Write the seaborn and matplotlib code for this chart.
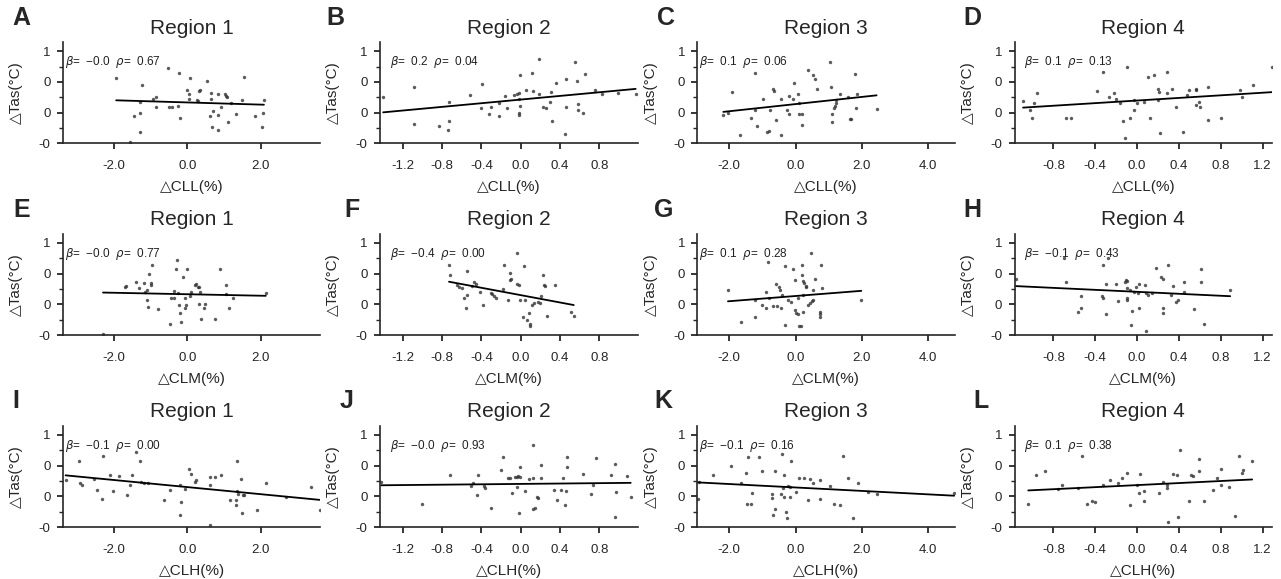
import matplotlib
matplotlib.use("Agg")
import matplotlib.pyplot as plt
import seaborn as sns
from matplotlib.ticker import MultipleLocator, FuncFormatter

# ---- data: x = cloud change (%), y = Tas change (degC) ----
x_A = [-1.94, -1.23, -0.53, -0.24, 0.08, 0.54, 1.56, 0.00, 0.04, 0.05, 0.32, 0.35, 0.64, 0.85,
       1.03, 1.06, 1.09, -0.94, -0.85, 0.26, 0.30, 0.64, 1.20, 1.50, 2.09, -1.30, -0.85, -0.50,
       -0.41, -0.25, 0.93, 0.70, -1.28, -1.45, -0.21, 0.63, 0.84, 1.34, 2.06, 1.86, 1.12, 0.68,
       0.84, 2.05, -1.30, -1.55]
y_A = [0.57, 0.45, 0.72, 0.65, 0.57, 0.51, 0.58, 0.37, 0.30, 0.23, 0.35, 0.37, 0.32, 0.31,
       0.30, 0.27, 0.26, 0.23, 0.26, 0.20, 0.19, 0.22, 0.15, 0.20, 0.20, 0.18, 0.09, 0.10,
       0.10, 0.11, 0.10, 0.02, -0.01, -0.06, -0.09, -0.06, -0.04, -0.02, 0.00, -0.06, -0.15, -0.23,
       -0.28, -0.23, -0.31, -0.47]

x_B = [-1.40, -1.09, -1.09, -0.73, -0.73, -0.83, -0.74, -0.52, -0.39, -0.40, -0.30, -0.32, -0.22,
       -0.22, -0.16, -0.14, -0.07, -0.04, -0.02, -0.02, -0.01, -0.02, -0.02, -0.01, 0.05, 0.11,
       0.13, 0.19, 0.19, 0.23, 0.26, 0.31, 0.30, 0.32, 0.36, 0.46, 0.46, 0.45, 0.55, 0.57, 0.58,
       0.58, 0.63, 0.65, 0.76, 0.83, 0.99, 1.17]
y_B = [0.25, 0.42, -0.18, 0.18, -0.13, -0.21, -0.28, 0.28, 0.47, 0.07, 0.10, -0.02, 0.15,
       -0.06, 0.27, 0.08, 0.28, 0.30, 0.32, 0.22, 0.11, -0.01, -0.04, 0.61, 0.37, 0.65,
       0.35, 0.88, 0.30, 0.10, 0.07, 0.34, 0.18, -0.13, 0.48, 0.54, 0.09, -0.34, 0.82, 0.52, 0.14,
       0.04, -0.01, 0.63, 0.37, 0.30, 0.32, 0.30]

x_C = [-2.18, -2.04, -1.91, -1.67, -1.24, -1.24, -1.17, -1.36, -0.99, -0.76, -0.68, -0.65, -0.58,
       -0.87, -0.79, -0.45, -0.45, -0.26, -0.21, -0.20, -0.05, -0.08, 0.07, 0.10, 0.09, 0.20, 0.20,
       0.37, 0.52, 0.57, 0.65, 1.06, 1.03, 1.11, 1.11, 1.16, 1.18, 1.21, 1.23, 1.33, 1.58, 1.63,
       1.68, 1.78, 1.81, 1.86, 2.44]
y_C = [-0.03, -0.01, 0.34, -0.36, 0.65, 0.05, -0.21, -0.08, 0.23, 0.05, 0.39, 0.35, -0.12,
       -0.32, -0.29, 0.22, -0.36, 0.04, -0.02, 0.27, 0.48, 0.22, 0.30, 0.16, -0.02, -0.02, -0.20,
       0.69, 0.62, 0.55, 0.39, 0.41, 0.82, -0.02, -0.15, 0.07, 0.11, 0.20, 0.15, 0.30, 0.26, -0.11,
       -0.11, 0.63, 0.07, 0.30, 0.06]

x_D = [-1.09, -0.99, -1.02, -1.00, -0.96, -0.63, -0.68, -0.38, -0.33, -0.27, -0.22, -0.20, -0.16,
       -0.13, -0.12, -0.10, -0.07, -0.03, -0.03, 0.00, 0.07, 0.10, 0.12, 0.16, 0.20, 0.21, 0.20,
       0.22, 0.29, 0.29, 0.33, 0.37, 0.44, 0.48, 0.50, 0.56, 0.56, 0.56, 0.59, 0.60, 0.68, 0.68,
       0.80, 0.98, 1.00, 1.11, 1.29]
y_D = [0.19, 0.16, 0.05, -0.09, 0.32, -0.09, -0.08, 0.35, 0.66, 0.25, 0.32, 0.23, 0.16,
       -0.13, -0.41, 0.75, -0.08, 0.20, 0.05, 0.16, 0.18, 0.58, -0.08, 0.61, 0.39, 0.34, 0.20,
       -0.33, 0.32, 0.66, 0.38, 0.10, -0.31, 0.28, 0.37, 0.39, 0.37, 0.12, 0.18, 0.09, 0.41, -0.12,
       -0.08, 0.37, 0.25, 0.45, 0.74]

x_E = [-2.30, -1.71, -1.66, -1.41, -1.32, -1.18, -1.16, -1.10, -1.09, -1.07, -1.05, -1.00, -0.98,
       -0.95, -0.80, -0.27, -0.30, -0.12, -0.37, -0.44, -0.37, -0.23, -0.25, -0.21, -0.18, -0.07,
       -0.05, -0.03, -0.01, 0.08, 0.11, 0.20, 0.25, 0.29, 0.32, 0.34, 0.32, 0.38, 0.45, 0.47, 0.75,
       0.90, 1.05, 1.05, 1.15, 1.25, 2.14, -0.46]
y_E = [-0.48, 0.29, 0.30, 0.37, 0.26, 0.35, 0.21, 0.24, 0.08, -0.04, 0.50, 0.35, 0.31,
       0.65, -0.08, 0.73, 0.57, 0.45, 0.22, 0.11, 0.10, -0.01, 0.19, -0.14, -0.28, -0.05,
       0.10, -0.01, 0.57, 0.14, 0.21, 0.31, 0.34, 0.29, 0.28, 0.21, 0.01, -0.23, -0.06, 0.01, -0.23,
       0.58, 0.31, 0.17, -0.06, 0.10, 0.19, -0.31]

x_F = [-0.73, -0.72, -0.55, -0.48, -0.46, -0.65, -0.63, -0.60, -0.58, -0.55, -0.56, -0.50, -0.41,
       -0.38, -0.30, -0.29, -0.25, -0.27, -0.18, -0.13, -0.17, -0.11, -0.10, -0.11, -0.04, -0.02,
       -0.04, -0.01, 0.03, 0.04, 0.02, 0.06, 0.08, 0.09, 0.09, 0.12, 0.14, 0.18, 0.20, 0.21, 0.23,
       0.24, 0.25, 0.35, 0.27, 0.51, 0.54]
y_F = [0.64, 0.48, 0.55, 0.37, 0.34, 0.31, 0.29, 0.27, 0.11, 0.15, -0.06, 0.30, 0.21,
       -0.01, 0.18, 0.17, 0.10, 0.14, 0.25, 0.08, 0.65, 0.51, 0.42, 0.39, 0.34, 0.31,
       0.84, 0.08, 0.62, 0.08, -0.20, -0.25, -0.14, -0.35, -0.31, -0.01, 0.03, 0.04, 0.02, 0.14, 0.48,
       0.31, 0.30, 0.31, -0.18, -0.13, -0.18]

x_G = [-2.04, -1.66, -1.24, -1.24, -1.01, -0.89, -0.89, -0.84, -0.79, -0.68, -0.58, -0.56, -0.50,
       -0.48, -0.43, -0.40, -0.33, -0.33, -0.23, -0.13, -0.08, -0.03, -0.03, 0.02, 0.07, 0.07, 0.10,
       0.17, 0.20, 0.20, 0.22, 0.24, 0.22, 0.30, 0.32, 0.37, 0.42, 0.50, 0.52, 0.57, 0.52, 0.73,
       0.73, 0.73, 0.78, 0.81, 0.22, 0.47, 1.98]
y_G = [0.23, -0.28, 0.08, -0.21, -0.01, -0.05, 0.21, 0.69, 0.10, -0.03, 0.34, -0.03, 0.29,
       0.24, -0.05, 0.15, 0.62, -0.34, 0.07, 0.04, 0.57, -0.09, 0.39, -0.14, -0.16, 0.10, -0.35,
       -0.35, 0.64, 0.48, 0.38, 0.35, 0.15, 0.30, 0.29, -0.01, 0.02, 0.05, 0.23, 0.41, 0.07, -0.12,
       -0.16, -0.20, 0.64, 0.26, -0.12, 0.83, 0.07]

x_H = [-1.16, -0.68, -0.54, -0.54, -0.56, -0.33, -0.34, -0.33, -0.30, -0.30, -0.28, -0.20, -0.18,
       -0.12, -0.11, -0.10, -0.10, -0.10, -0.10, -0.07, -0.06, -0.05, -0.03, -0.01, 0.02, 0.02,
       0.01, 0.08, 0.09, 0.10, 0.09, 0.14, 0.18, 0.23, 0.25, 0.25, 0.25, 0.30, 0.32, 0.34, 0.37,
       0.39, 0.45, 0.45, 0.54, 0.61, 0.61, 0.64, 0.89, -0.70]
y_H = [0.41, 0.37, 0.14, -0.06, -0.12, 0.65, 0.14, 0.11, 0.34, -0.15, 0.75, 0.33, 0.06,
       0.37, 0.39, 0.38, 0.26, 0.10, 0.07, 0.23, -0.34, -0.10, 0.21, 0.29, 0.34, -0.06,
       0.18, 0.31, 0.18, 0.15, -0.43, 0.18, 0.60, 0.44, 0.42, -0.06, -0.14, 0.65, 0.15, 0.30, 0.04,
       0.08, 0.37, 0.21, -0.08, 0.57, 0.37, -0.32, 0.24, 0.75]

x_I = [-3.32, -2.95, -2.94, -2.86, -2.55, -2.46, -2.30, -2.32, -2.12, -2.03, -1.85, -1.64, -1.57,
       -1.50, -1.41, -1.28, -1.25, -1.19, -1.07, -0.64, -0.46, -0.21, -0.21, -0.16, -0.05, 0.05,
       0.11, 0.20, 0.25, 0.61, 0.63, 0.75, 0.91, 1.17, 1.32, 1.32, 1.35, 1.36, 1.38, 1.47, 1.52,
       1.56, 1.50, 1.90, 2.14, 2.68, 3.38, 3.61, 0.63]
y_I = [0.26, 0.57, 0.22, 0.19, 0.28, 0.10, 0.65, -0.04, 0.35, 0.08, 0.33, 0.02, 0.18,
       0.35, 0.72, 0.58, 0.23, 0.21, 0.21, -0.06, 0.10, 0.18, -0.31, -0.09, 0.12, 0.45,
       0.37, 0.23, 0.26, 0.31, 0.19, 0.31, 0.35, -0.06, -0.06, -0.15, 0.58, 0.08, 0.04, 0.28, 0.02,
       0.02, -0.28, -0.23, 0.21, -0.01, 0.15, -0.23, -0.47]

x_J = [-1.42, -1.00, -0.72, -0.51, -0.49, -0.45, -0.43, -0.37, -0.36, -0.30, -0.20, -0.18, -0.13,
       -0.11, -0.09, -0.06, -0.04, -0.03, -0.04, -0.02, -0.01, -0.01, 0.04, 0.08, 0.13, 0.13, 0.13,
       0.15, 0.17, 0.18, 0.21, 0.21, 0.34, 0.37, 0.41, 0.43, 0.46, 0.45, 0.47, 0.47, 0.63, 0.72,
       0.74, 0.77, 0.92, 0.96, 0.97, 0.96, 1.08, 1.12]
y_J = [0.23, -0.13, 0.35, 0.17, 0.21, 0.02, 0.35, 0.17, 0.14, -0.19, 0.42, 0.64, 0.29,
       0.30, 0.06, 0.31, 0.31, 0.33, 0.15, -0.28, 0.48, 0.31, 0.08, 0.28, 0.29, 0.83, -0.21,
       -0.19, -0.01, -0.03, 0.51, 0.30, 0.10, -0.06, 0.10, 0.30, 0.08, -0.14, 0.64, 0.48, 0.37, 0.04,
       0.19, 0.62, 0.35, 0.53, 0.07, -0.34, 0.33, -0.01]

x_K = [-2.95, -2.92, -2.48, -1.94, -1.64, -1.49, -1.44, -1.47, -1.34, -1.32, -1.11, -1.01, -0.70,
       -0.70, -0.68, -0.63, -0.63, -0.36, -0.40, -0.43, -0.38, -0.36, -0.28, -0.26, -0.23, -0.18,
       -0.18, -0.13, 0.02, 0.10, 0.25, 0.37, 0.44, 0.52, 0.73, 0.73, 1.03, 1.16, 1.33, 1.43, 1.58,
       1.88, 2.17, 2.44, 1.73, 4.78]
y_K = [-0.04, 0.23, 0.34, 0.49, 0.22, 0.38, 0.64, -0.12, -0.12, 0.06, 0.64, 0.41, -0.03,
       0.03, -0.31, 0.41, -0.20, 0.35, 0.69, 0.04, 0.14, -0.01, -0.25, -0.35, 0.17, 0.15,
       -0.02, 0.57, 0.07, 0.30, 0.30, -0.06, 0.28, 0.21, 0.26, -0.04, 0.17, -0.12, -0.15, 0.65, 0.30,
       0.22, 0.07, 0.03, -0.35, 0.06]

x_L = [-1.04, -0.97, -0.88, -0.76, -0.72, -0.56, -0.53, -0.48, -0.43, -0.40, -0.33, -0.26, -0.18,
       -0.14, -0.10, -0.07, 0.00, 0.03, 0.02, 0.07, 0.07, 0.21, 0.25, 0.29, 0.29, 0.30, 0.34, 0.38,
       0.39, 0.41, 0.50, 0.52, 0.53, 0.59, 0.59, 0.64, 0.73, 0.76, 0.80, 0.80, 0.88, 0.94, 0.97,
       1.00, 1.01, 1.10]
y_L = [-0.13, 0.34, 0.41, 0.12, 0.18, 0.14, 0.65, -0.12, -0.08, -0.09, 0.19, 0.26, 0.22,
       0.30, 0.38, -0.14, 0.19, 0.37, 0.05, 0.08, -0.08, 0.06, 0.23, 0.18, 0.14, -0.42, 0.37, 0.35,
       -0.34, 0.75, -0.08, 0.35, 0.33, 0.41, 0.60, -0.08, 0.10, 0.29, 0.19, 0.44, 0.15, -0.32, 0.65,
       0.38, 0.42, 0.58]

letters = ["A", "B", "C", "D", "E", "F", "G", "H", "I", "J", "K", "L"]
x_data = [x_A, x_B, x_C, x_D, x_E, x_F, x_G, x_H, x_I, x_J, x_K, x_L]
y_data = [y_A, y_B, y_C, y_D, y_E, y_F, y_G, y_H, y_I, y_J, y_K, y_L]
betas = ["\u22120.0", "0.2", "0.1", "0.1",
         "\u22120.0", "\u22120.4", "0.1", "\u22120.1",
         "\u22120.1", "\u22120.0", "\u22120.1", "0.1"]
rhos = ["0.67", "0.04", "0.06", "0.13",
        "0.77", "0.00", "0.28", "0.43",
        "0.00", "0.93", "0.16", "0.38"]
cloud_vars = ["CLL", "CLM", "CLH"]
regions = ["Region 1", "Region 2", "Region 3", "Region 4"]

# per-region x axis settings
x_limits = [(-3.39, 3.63), (-1.43, 1.19), (-2.96, 4.8), (-1.17, 1.29)]
x_steps = [2.0, 0.4, 2.0, 0.4]
text_x = [0.006, 0.037, 0.006, 0.037]
letter_x = [-0.198, -0.209, -0.159, -0.198,
            -0.194, -0.140, -0.167, -0.198,
            -0.198, -0.159, -0.167, -0.159]

sns.set_style("ticks")
plt.rcParams["font.family"] = ["Liberation Sans", "DejaVu Sans"]
plt.rcParams["axes.linewidth"] = 1.2

fig, axes = plt.subplots(3, 4, figsize=(12.81, 5.79), dpi=100)
fig.subplots_adjust(left=0.0492, right=0.993, bottom=0.0898, top=0.9275,
                    wspace=0.2326, hspace=0.89)

for i, ax in enumerate(axes.flat):
    row, col = divmod(i, 4)
    sns.regplot(x=x_data[i], y=y_data[i], ax=ax, ci=None, truncate=True, color="black",
                scatter_kws={"s": 6, "color": "#333333", "linewidths": 0},
                line_kws={"lw": 1.3})
    ax.set_xlim(x_limits[col])
    ax.set_ylim(-0.5, 1.15)
    ax.xaxis.set_major_locator(MultipleLocator(x_steps[col]))
    ax.xaxis.set_major_formatter(FuncFormatter(lambda v, p: f"{round(v, 6) + 0.0:.1f}"))
    ax.yaxis.set_major_locator(MultipleLocator(0.5))
    ax.yaxis.set_minor_locator(MultipleLocator(0.25))
    ax.yaxis.set_major_formatter(FuncFormatter(lambda v, p: f"{round(v, 6) + 0.0:.0f}"))
    ax.tick_params(axis="both", which="major", direction="out", length=4, width=1.1,
                   labelsize=9.5, color="black")
    ax.tick_params(axis="both", which="minor", direction="out", length=3, width=1.0)
    ax.tick_params(axis="x", pad=8)
    ax.tick_params(axis="y", pad=5)
    sns.despine(ax=ax)

    ax.set_title(regions[col], fontsize=15, pad=6)
    ax.set_xlabel("\u25b3" + cloud_vars[row] + "(%)", fontsize=11)
    ax.set_ylabel("\u25b3Tas(\u00b0C)", fontsize=11)
    ax.xaxis.set_label_coords(0.5, -0.36)
    ax.yaxis.set_label_coords(-0.155, 0.5)

    ax.text(text_x[col], 0.8, rf"$\beta$=  {betas[i]}  $\rho$=  {rhos[i]}",
            transform=ax.transAxes, fontsize=8.5, va="center", ha="left", color="#222222")
    ax.text(letter_x[i], 1.17, letters[i], transform=ax.transAxes, fontsize=18,
            fontweight="bold", ha="left", va="baseline")

fig.savefig("out.png", dpi=100)
